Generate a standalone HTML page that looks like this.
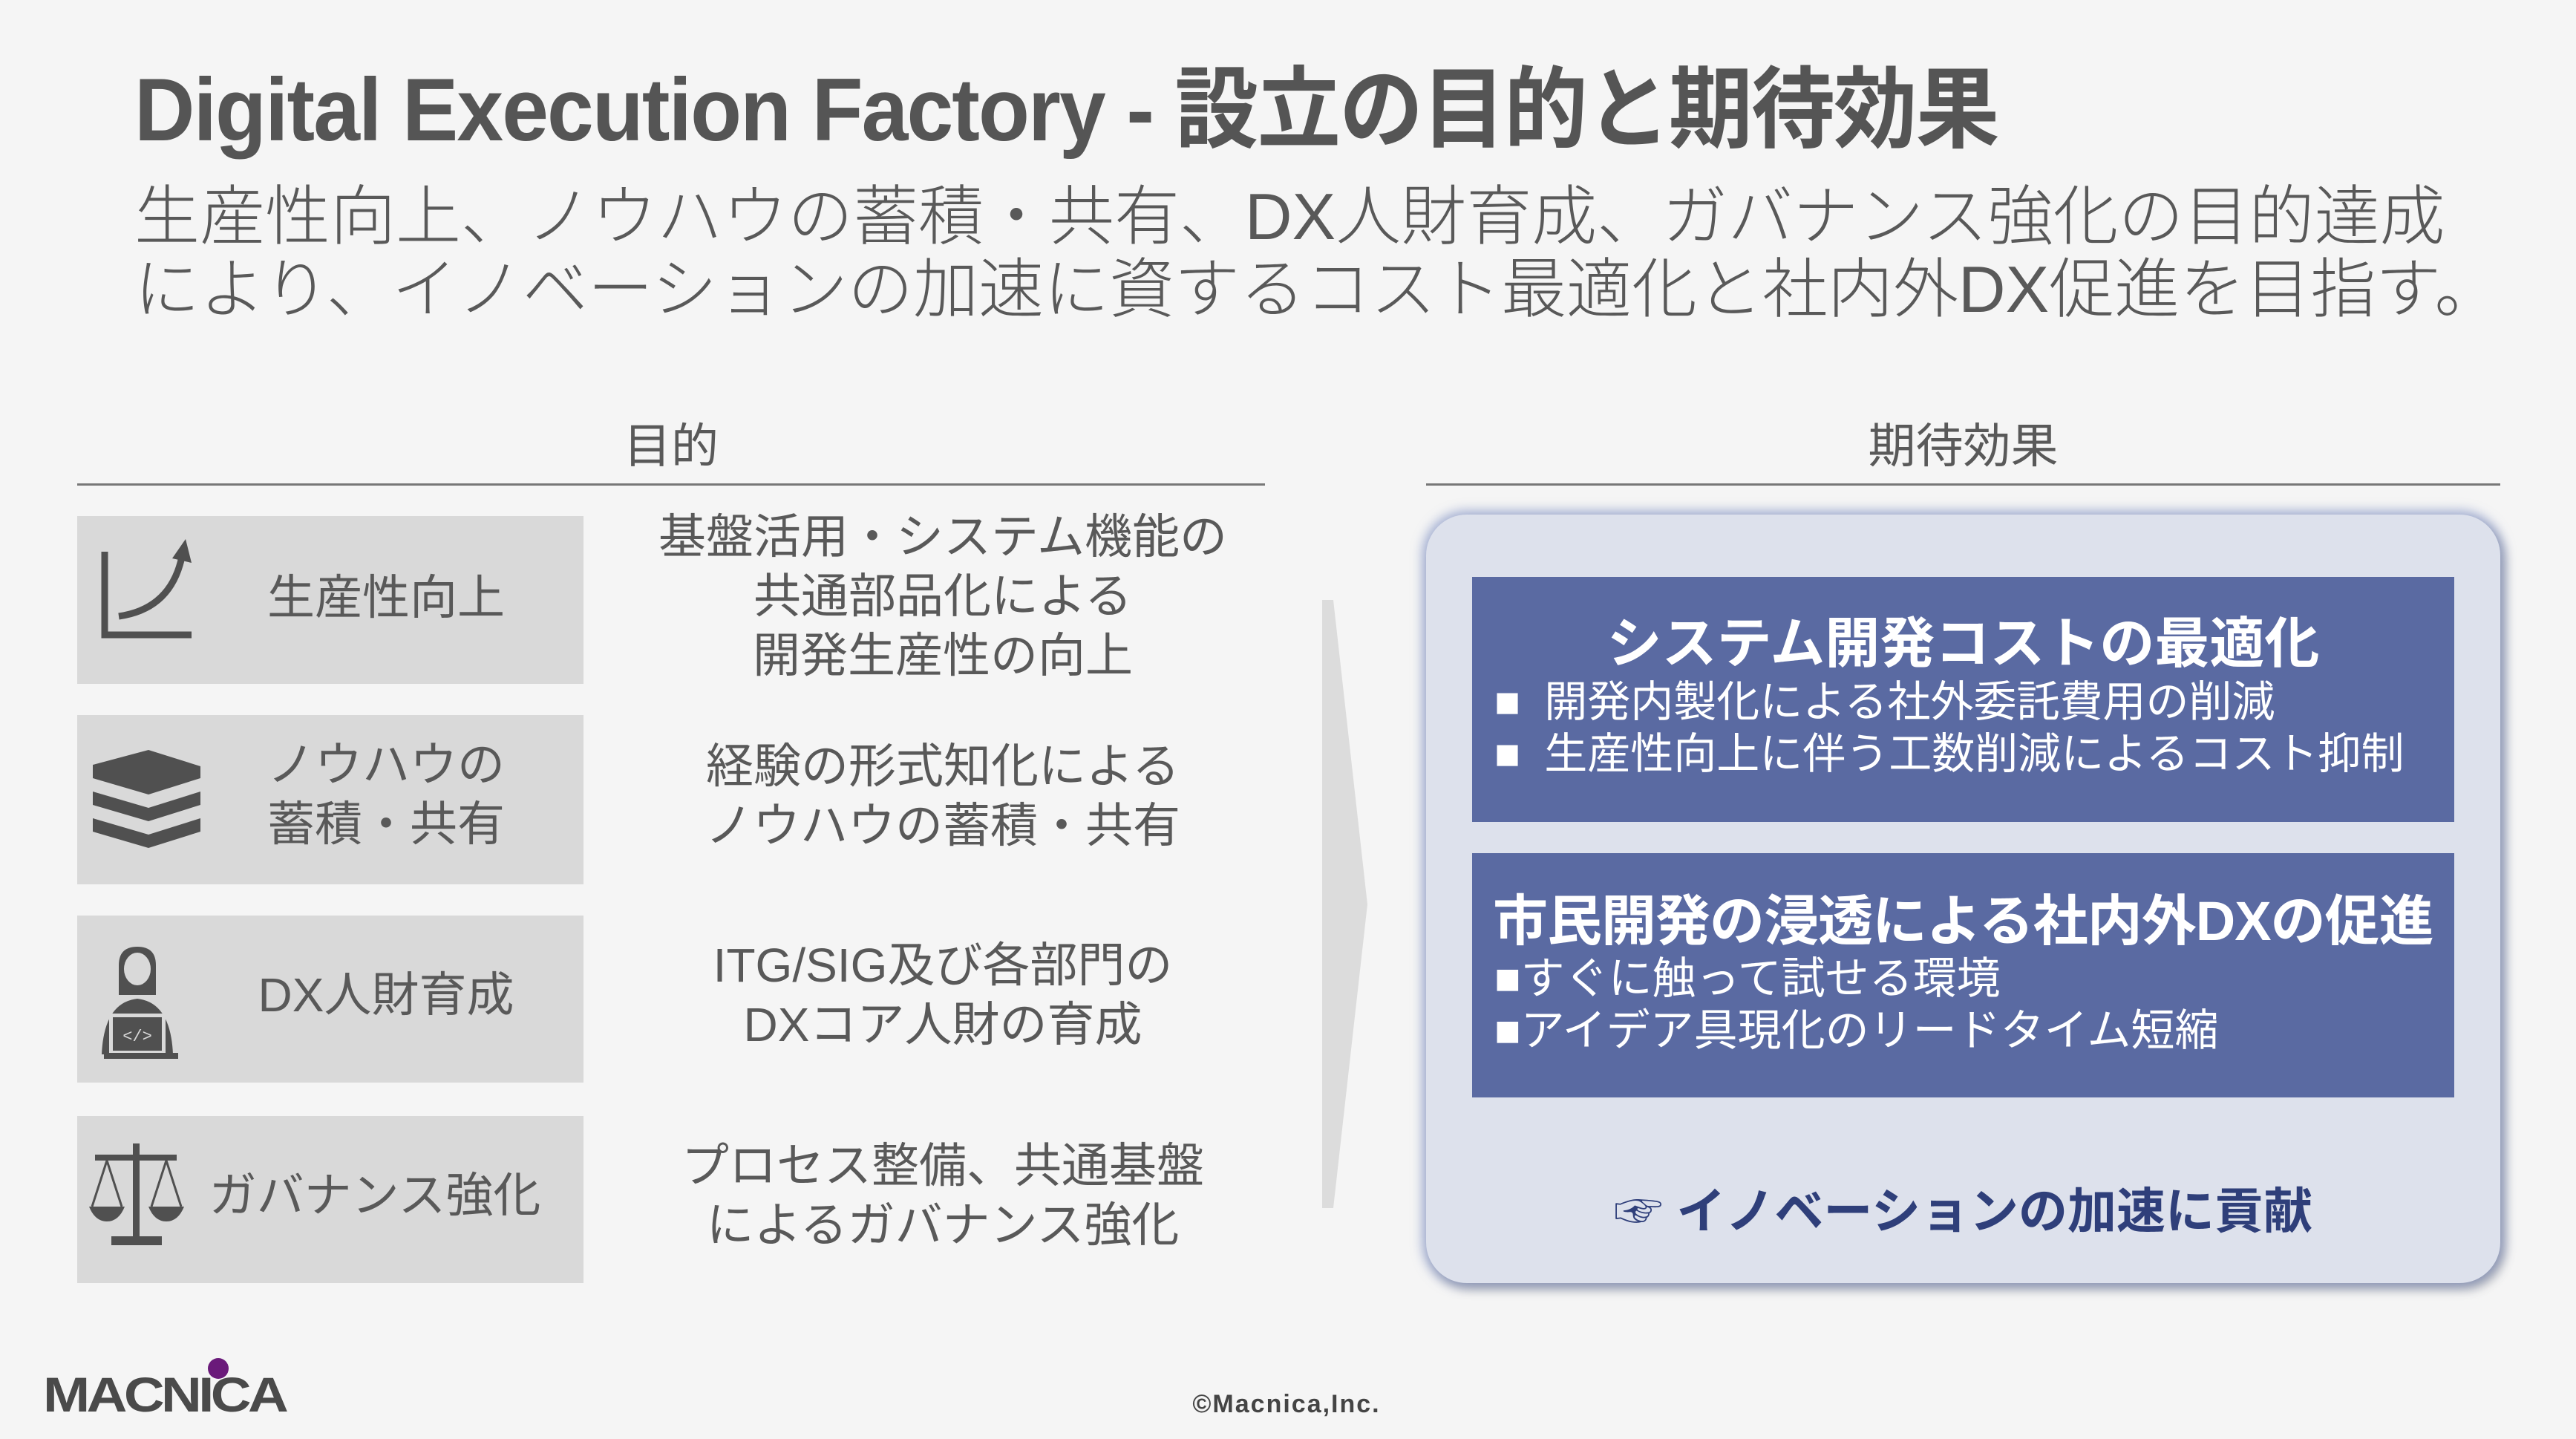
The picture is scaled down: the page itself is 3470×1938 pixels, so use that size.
<!DOCTYPE html>
<html><head><meta charset="utf-8"><style>
body{margin:0;width:3470px;height:1938px;background:#f5f5f5;position:relative;overflow:hidden;font-family:"Liberation Sans","Noto Sans CJK JP",sans-serif;color:#555}
.a{position:absolute;white-space:nowrap}
.box{position:absolute;left:104px;width:682px;background:#d9d9d9}
.lbl{position:absolute;left:230px;width:580px;text-align:center;font-size:64px;line-height:80px;color:#595959}
.desc{position:absolute;left:820px;width:900px;text-align:center;font-size:64px;line-height:80px;color:#595959}
.blue{position:absolute;left:1983px;width:1323px;background:#5a6aa2;color:#fff}
</style></head><body>
<div class="a" style="left:181px;top:50px;font-size:120px;font-weight:bold;color:#555;letter-spacing:-2px;transform:scaleX(0.94);transform-origin:left">Digital Execution Factory - 設立の目的と期待効果</div>
<div class="a" style="left:181px;top:243px;font-size:88px;line-height:98px;color:#595959;font-weight:300">生産性向上、ノウハウの蓄積・共有、DX人財育成、ガバナンス強化の目的達成<br>により、イノベーションの加速に資するコスト最適化と社内外DX促進を目指す。</div>

<div class="a" style="left:104px;width:1600px;text-align:center;top:550px;font-size:64px;color:#595959">目的</div>
<div class="a" style="left:104px;width:1600px;top:651px;height:3px;background:#777"></div>
<div class="a" style="left:1921px;width:1447px;text-align:center;top:550px;font-size:64px;color:#595959">期待効果</div>
<div class="a" style="left:1921px;width:1447px;top:651px;height:3px;background:#777"></div>

<div class="box" style="top:695px;height:226px"></div>
<div class="box" style="top:963px;height:228px"></div>
<div class="box" style="top:1233px;height:225px"></div>
<div class="box" style="top:1503px;height:225px"></div>

<svg class="a" style="left:0;top:0" width="1900" height="1938">
<g fill="none" stroke="#505050" stroke-width="9">
<path d="M141 743 V855 H258"/><path d="M160 830 Q230 820 245 750"/>
</g>
<path d="M232 752 L250 726 L258 758 Z" fill="#505050"/>
<g fill="#505050">
<path d="M125 1030 L200 1010 L270 1032 L270 1048 L200 1070 L125 1048 Z"/>
<path d="M125 1066 L200 1088 L270 1066 L270 1084 L200 1106 L125 1084 Z"/>
<path d="M125 1102 L200 1124 L270 1102 L270 1120 L200 1142 L125 1120 Z"/>
<path d="M160 1300 Q160 1275 185 1275 Q210 1275 210 1300 L210 1340 L160 1340 Z"/>
<path d="M137 1420 Q140 1350 185 1345 Q230 1350 233 1420 Z"/>
<rect x="147" y="1365" width="76" height="55" fill="#d9d9d9"/>
<rect x="152" y="1370" width="66" height="45"/>
<rect x="140" y="1418" width="100" height="8"/>
<rect x="179" y="1540" width="9" height="130"/>
<rect x="150" y="1665" width="68" height="12"/>
<rect x="128" y="1555" width="110" height="8"/>
<path d="M120 1625 H168 Q160 1645 144 1645 Q128 1645 120 1625Z"/>
<path d="M200 1625 H248 Q240 1645 224 1645 Q208 1645 200 1625Z"/>
</g>
<ellipse cx="185" cy="1305" rx="18" ry="22" fill="#d9d9d9"/>
<text x="185" y="1402" font-size="22" fill="#d9d9d9" text-anchor="middle" font-family="Liberation Mono">&lt;/&gt;</text>
<g stroke="#505050" stroke-width="3" fill="none"><path d="M144 1563 L124 1625 M144 1563 L164 1625 M224 1563 L204 1625 M224 1563 L244 1625"/></g>
<polygon points="1781,808 1796,808 1842,1218 1796,1627 1781,1627" fill="#dcdcdc"/>
</svg>

<div class="lbl" style="top:765px">生産性向上</div>
<div class="lbl" style="top:990px">ノウハウの<br>蓄積・共有</div>
<div class="lbl" style="top:1300px">DX人財育成</div>
<div class="lbl" style="top:1570px;left:215px;font-size:64px">ガバナンス強化</div>

<div class="desc" style="top:683px">基盤活用・システム機能の<br>共通部品化による<br>開発生産性の向上</div>
<div class="desc" style="top:992px">経験の形式知化による<br>ノウハウの蓄積・共有</div>
<div class="desc" style="top:1260px">ITG/SIG及び各部門の<br>DXコア人財の育成</div>
<div class="desc" style="top:1530px">プロセス整備、共通基盤<br>によるガバナンス強化</div>

<div class="a" style="left:1921px;top:693px;width:1447px;height:1035px;border-radius:55px;background:#dde1ec;box-shadow:0 0 14px 6px rgba(110,130,190,0.55),6px 8px 14px rgba(80,80,80,0.4)"></div>
<div class="blue" style="top:777px;height:330px">
<div style="text-align:center;font-size:74px;font-weight:bold;margin-top:50px;line-height:80px">システム開発コストの最適化</div>
<div style="font-size:58px;line-height:70px;margin-left:30px;margin-top:4px">■&nbsp; 開発内製化による社外委託費用の削減<br>■&nbsp; 生産性向上に伴う工数削減によるコスト抑制</div>
</div>
<div class="blue" style="top:1149px;height:329px">
<div style="font-size:74px;font-weight:bold;margin-top:52px;margin-left:28px;line-height:80px;letter-spacing:-1px">市民開発の浸透による社内外DXの促進</div>
<div style="font-size:59px;line-height:70px;margin-left:30px;margin-top:2px">■すぐに触って試せる環境<br>■アイデア具現化のリードタイム短縮</div>
</div>
<div class="a" style="left:1921px;width:1447px;text-align:center;top:1578px;font-size:66px;font-weight:bold;color:#2f3f7a">☞ イノベーションの加速に貢献</div>

<div class="a" style="left:58px;top:1845px;font-size:66px;font-weight:900;color:#4a4a4a;letter-spacing:-4px;transform:scaleX(1.15);transform-origin:left;line-height:66px">MACNICA</div>
<div class="a" style="left:280px;top:1829px;width:28px;height:28px;border-radius:50%;background:#6a1a7a"></div>
<div class="a" style="left:1533px;width:400px;text-align:center;top:1872px;font-size:34px;font-weight:bold;color:#444;letter-spacing:2px">©Macnica,Inc.</div>
</body></html>
